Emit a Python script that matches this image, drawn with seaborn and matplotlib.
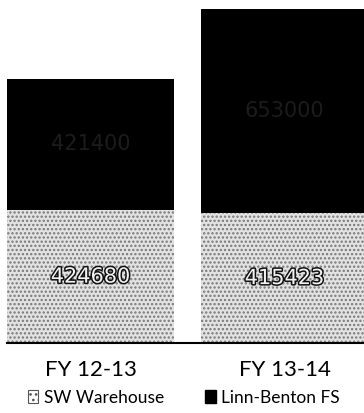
import matplotlib
matplotlib.use("Agg")
import matplotlib.pyplot as plt
import matplotlib.patheffects as pe
from matplotlib.patches import Patch
import seaborn as sns
import pandas as pd

# data
years = ["FY 12-13", "FY 13-14"]
sw_warehouse = [424680, 415423]
linn_benton = [421400, 653000]

sns.set_theme(style="white")
plt.rcParams["font.family"] = ["Lato", "DejaVu Sans"]
plt.rcParams["hatch.linewidth"] = 1.1

df = pd.DataFrame({
    "year": years,
    "sw": sw_warehouse,
    "total": [a + b for a, b in zip(sw_warehouse, linn_benton)],
})

fig = plt.figure(figsize=(3.64, 4.13), dpi=100)
# axes run slightly past the right edge, as in the cropped original
ax = fig.add_axes([7 / 364, 70 / 413, 361 / 364, 334 / 413])

bar_w = 0.861
sns.barplot(data=df, x="year", y="total", color="black", width=bar_w,
            saturation=1, linewidth=0, ax=ax)
sns.barplot(data=df, x="year", y="sw", color="#e2e2e2", width=bar_w,
            saturation=1, linewidth=0, edgecolor="#777777", hatch="....", ax=ax)

ax.set_xlim(-bar_w / 2, 1 + bar_w / 2)
ax.set_ylim(0, df["total"].max())

# segment labels
black_bars = ax.containers[0]
sw_bars = ax.containers[1]
for bar, val in zip(black_bars, linn_benton):
    x = bar.get_x() + bar.get_width() / 2
    y = bar.get_height() - val / 2
    ax.text(x, y, str(val), ha="center", va="center", fontsize=15,
            color="#1c1c1c", family="DejaVu Sans")
ax.bar_label(sw_bars, labels=[str(v) for v in sw_warehouse], label_type="center",
             fontsize=15, color="#f2f2f2", family="DejaVu Sans",
             path_effects=[pe.withStroke(linewidth=2.2, foreground="#111111")])

ax.set_xlabel("")
ax.set_ylabel("")
ax.set_yticks([])
for side in ["left", "right", "top"]:
    ax.spines[side].set_visible(False)
ax.spines["bottom"].set_color("black")
ax.spines["bottom"].set_linewidth(1.5)
ax.tick_params(axis="x", length=0, pad=12, labelsize=16, colors="black")

handles = [
    Patch(facecolor="white", edgecolor="#555555", hatch="...", linewidth=0.8),
    Patch(facecolor="black", edgecolor="black"),
]
fig.legend(handles, ["SW Warehouse", "Linn-Benton FS"], loc="center",
           bbox_to_anchor=(0.505, 0.037), ncol=2, frameon=False, fontsize=12.5,
           handlelength=0.6, handleheight=0.8, handletextpad=0.3,
           columnspacing=2.4, labelcolor="black")

fig.savefig("out.png", dpi=100, facecolor="white")
